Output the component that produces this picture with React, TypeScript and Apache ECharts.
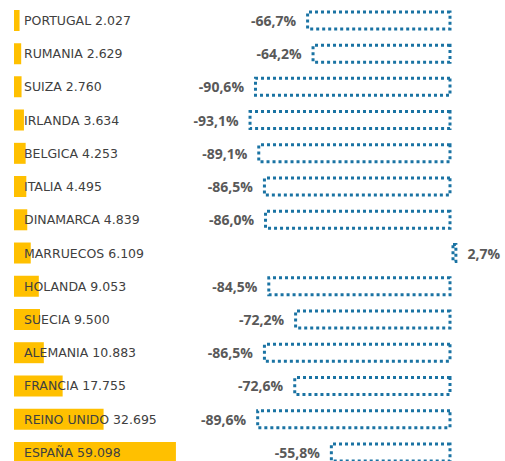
import React, { useEffect, useRef } from "react";
import * as echarts from "echarts";

const countries = [
  "PORTUGAL", "RUMANIA", "SUIZA", "IRLANDA", "BELGICA", "ITALIA", "DINAMARCA",
  "MARRUECOS", "HOLANDA", "SUECIA", "ALEMANIA", "FRANCIA", "REINO UNIDO", "ESPAÑA",
];
const visitors = [2027, 2629, 2760, 3634, 4253, 4495, 4839, 6109, 9053, 9500, 10883, 17755, 32695, 59098];
const changes = [-66.7, -64.2, -90.6, -93.1, -89.1, -86.5, -86.0, 2.7, -84.5, -72.2, -86.5, -72.6, -89.6, -55.8];

const fmtThousands = (v: number) => String(v).replace(/\B(?=(\d{3})+(?!\d))/g, ".");
const fmtPct = (v: number) => v.toFixed(1).replace(".", ",") + "%";

export default function App() {
  const ref = useRef<HTMLDivElement>(null);
  useEffect(() => {
    if (!ref.current) return;
    const chart = echarts.init(ref.current, undefined, { renderer: "svg" });
    const top = 3.8;
    const height = 465.2;
    const yAx = (gridIndex: number) => ({
      type: "category" as const,
      gridIndex,
      data: countries,
      inverse: true,
      show: false,
    });
    chart.setOption({
      animation: false,
      backgroundColor: "#ffffff",
      grid: [
        { left: 14, top, width: 164.4, height },
        { left: 233.5, top, width: 239.8, height },
      ],
      xAxis: [
        { type: "value", gridIndex: 0, min: 0, max: 60000, show: false },
        { type: "value", gridIndex: 1, min: -100, max: 10, show: false },
      ],
      yAxis: [yAx(0), yAx(1)],
      series: [
        {
          type: "bar",
          xAxisIndex: 0,
          yAxisIndex: 0,
          data: visitors,
          barWidth: 21,
          itemStyle: { color: "#FFC000" },
          label: {
            show: true,
            position: "insideLeft",
            distance: 10,
            color: "#404040",
            fontFamily: "DejaVu Sans",
            fontSize: 12.5,
            formatter: (p: any) => countries[p.dataIndex] + " " + fmtThousands(p.value),
          },
        },
        {
          type: "bar",
          xAxisIndex: 1,
          yAxisIndex: 1,
          barWidth: 20,
          data: changes.map((v) => ({
            value: v,
            label: { position: v < 0 ? "left" : "right" },
          })),
          itemStyle: {
            color: "#ffffff",
            borderColor: "#1a73a3",
            borderWidth: 3,
            borderType: [3, 3],
          },
          label: {
            show: true,
            distance: 10,
            color: "#595959",
            fontFamily: "Open Sans",
            fontWeight: "bold",
            fontSize: 14,
            formatter: (p: any) => fmtPct(p.value),
          },
        },
      ],
    });
    return () => chart.dispose();
  }, []);
  return (
    <div style={{ position: "fixed", left: 0, top: 0, width: 505, height: 461, overflow: "hidden" }}>
      <div ref={ref} style={{ width: 505, height: 490 }} />
    </div>
  );
}
